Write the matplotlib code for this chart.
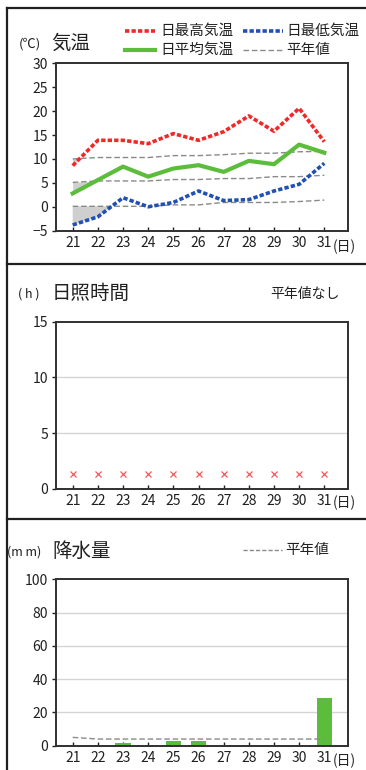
import matplotlib
matplotlib.use("Agg")
import matplotlib.pyplot as plt
import numpy as np

plt.rcParams['font.family'] = ['Noto Sans CJK JP', 'DejaVu Sans']

# ---- data ----
days = [21, 22, 23, 24, 25, 26, 27, 28, 29, 30, 31]
day_labels = [str(d) for d in days]

temp_max = [8.6, 13.9, 13.9, 13.2, 15.3, 13.9, 15.7, 19.0, 15.8, 20.6, 13.6]
temp_min = [-3.8, -2.1, 1.9, 0.0, 0.9, 3.3, 1.3, 1.5, 3.3, 4.7, 9.1]
temp_mean = [2.8, 5.6, 8.4, 6.3, 8.0, 8.7, 7.3, 9.6, 8.9, 13.0, 11.3]
norm_max = [10.0, 10.3, 10.3, 10.3, 10.7, 10.7, 10.9, 11.2, 11.2, 11.5, 11.6]
norm_mean = [5.1, 5.4, 5.4, 5.4, 5.7, 5.7, 5.9, 5.9, 6.3, 6.3, 6.6]
norm_min = [0.1, 0.1, 0.1, 0.1, 0.4, 0.4, 0.9, 0.9, 0.9, 1.1, 1.4]

sun_missing = [1.3, 1.3, 1.3, 1.3, 1.3, 1.3, 1.3, 1.3, 1.3, 1.3, 1.3]

precip = [0, 0, 1.6, 0, 2.6, 2.6, 0, 0, 0, 0, 28.5]
precip_norm = [5.0, 4.0, 4.0, 4.0, 4.0, 4.0, 4.0, 4.0, 4.0, 4.0, 4.0]

# ---- style ----
RED = '#f02828'
BLUE = '#2050b4'
GREEN = '#5cbd3c'
GRAY = '#8a8a8a'
FILL = '#cfcfcf'
TXT = '#202020'
W, H = 366, 770

fig = plt.figure(figsize=(W / 100, H / 100), dpi=100)

def ax_rect(left, top, right, bottom):
    return [left / W, 1 - bottom / H, (right - left) / W, (bottom - top) / H]

XLIM = (20.324, 31.954)

def style(ax, ylim, yticks):
    ax.set_xlim(*XLIM)
    ax.set_ylim(*ylim)
    ax.set_yticks(yticks)
    ax.set_xticks(days)
    ax.set_xticklabels(day_labels)
    for s in ax.spines.values():
        s.set_linewidth(1.4)
        s.set_color('#303030')
    ax.tick_params(axis='y', direction='out', length=3, width=1, pad=2.5,
                   labelsize=10, colors=TXT)
    ax.tick_params(axis='x', direction='in', length=3, width=1, pad=4,
                   labelsize=10, colors=TXT)

# ---- temperature ----
ax1 = fig.add_axes(ax_rect(55.7, 63.3, 348.3, 230.7))
style(ax1, (-5, 30), [-5, 0, 5, 10, 15, 20, 25, 30])
d = np.array(days, float)
for act, nrm in [(temp_max, norm_max), (temp_mean, norm_mean), (temp_min, norm_min)]:
    a = np.array(act); n = np.array(nrm)
    ax1.fill_between(d, a, n, where=a < n, interpolate=True, color=FILL,
                     linewidth=0, zorder=1)
for nrm in [norm_max, norm_mean, norm_min]:
    ax1.plot(days, nrm, color=GRAY, lw=1, ls=(0, (4, 2)), zorder=2)
ax1.plot(days, temp_max, color=RED, lw=2.6, ls=(0, (1.2, 0.6)), zorder=3)
ax1.plot(days, temp_min, color=BLUE, lw=2.6, ls=(0, (1.2, 0.6)), zorder=3)
ax1.plot(days, temp_mean, color=GREEN, lw=3, zorder=3)

# ---- sunshine ----
ax2 = fig.add_axes(ax_rect(55.7, 321.7, 348.3, 488.7))
style(ax2, (0, 15), [0, 5, 10, 15])
for g in [5, 10]:
    ax2.axhline(g, color='#d4d4d4', lw=1, zorder=0)
ax2.plot(days, sun_missing, ls='none', marker='x', ms=4.5, mew=0.9,
         color='#f05a5a')

# ---- precipitation ----
ax3 = fig.add_axes(ax_rect(55.7, 579.3, 348.3, 745.7))
style(ax3, (0, 100), [0, 20, 40, 60, 80, 100])
for g in [20, 40, 60, 80]:
    ax3.axhline(g, color='#d4d4d4', lw=1, zorder=0)
ax3.bar(days, precip, width=0.6, color=GREEN, zorder=2)
ax3.plot(days, precip_norm, color=GRAY, lw=1, ls=(0, (4, 2)), zorder=3)

# ---- overlay for frames, titles, legends (pixel coords) ----
ov = fig.add_axes([0, 0, 1, 1], zorder=-1)
ov.set_xlim(0, W)
ov.set_ylim(H, 0)
ov.axis('off')
ov.patch.set_alpha(0)

# panel frames
ov.plot([7, 7], [8, H], color=TXT, lw=1.6)
for y in [8, 263.5, 519]:
    ov.plot([7, W], [y, y], color=TXT, lw=1.6)

# titles
ov.text(19, 44, '(℃)', fontsize=9.5, va='center', ha='left', color=TXT)
ov.text(51, 43, '気温', fontsize=14, va='center', ha='left', color=TXT)
ov.text(18, 294, '( h )', fontsize=9, va='center', ha='left', color=TXT)
ov.text(52, 293, '日照時間', fontsize=14, va='center', ha='left', color=TXT)
ov.text(270, 294, '平年値なし', fontsize=10, va='center', ha='left', color=TXT)
ov.text(7, 552, '(m m)', fontsize=9, va='center', ha='left', color=TXT)
ov.text(52, 551, '降水量', fontsize=14, va='center', ha='left', color=TXT)

# legend (temperature)
ov.plot([125, 155], [31, 31], color=RED, lw=2.6, ls=(0, (1.2, 0.6)))
ov.text(160, 31, '日最高気温', fontsize=10.5, va='center', ha='left', color=TXT)
ov.plot([243, 283], [31, 31], color=BLUE, lw=2.6, ls=(0, (1.2, 0.6)))
ov.text(286, 31, '日最低気温', fontsize=10.5, va='center', ha='left', color=TXT)
ov.plot([125, 155], [50, 50], color=GREEN, lw=3)
ov.text(160, 50, '日平均気温', fontsize=10.5, va='center', ha='left', color=TXT)
ov.plot([243, 283], [50, 50], color=GRAY, lw=1, ls=(0, (4, 2)))
ov.text(286, 50, '平年値', fontsize=10.5, va='center', ha='left', color=TXT)

# legend (precip)
ov.plot([243, 282], [550, 550], color=GRAY, lw=1, ls=(0, (3, 1.5)))
ov.text(285, 550, '平年値', fontsize=10.5, va='center', ha='left', color=TXT)

# (日) labels
for y in [246.5, 503, 761]:
    ov.text(333, y, '(日)', fontsize=10, va='center', ha='left', color=TXT)

fig.savefig('out.png', dpi=100)
